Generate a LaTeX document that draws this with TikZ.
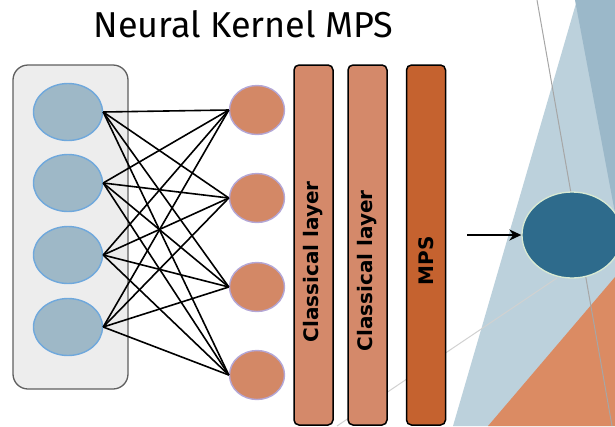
\documentclass[tikz,border=0pt]{standalone}
\usepackage{fontspec}
\setmainfont{Fira Sans}
\newfontfamily\barfont{DejaVu Sans}
\usetikzlibrary{shapes.geometric}
\usetikzlibrary{arrows.meta}

\definecolor{boxgray}{HTML}{EDEDED}
\definecolor{boxrim}{HTML}{5F5F5F}
\definecolor{inblue}{HTML}{9EB8C7}
\definecolor{inrim}{HTML}{6FA8DC}
\definecolor{hidorange}{HTML}{D38866}
\definecolor{hidrim}{HTML}{B4A7D6}
\definecolor{classic}{HTML}{D4896A}
\definecolor{mpsorange}{HTML}{C5622F}
\definecolor{outblue}{HTML}{2E6B8C}
\definecolor{outrim}{HTML}{D9EAD3}
\definecolor{bglight}{HTML}{BCD1DC}
\definecolor{bgdark}{HTML}{9BB8C9}
\definecolor{bgorange}{HTML}{DB8B63}

\tikzset{
  inneuron/.style={ellipse, draw=inrim, fill=inblue, line width=1.4pt, minimum width=69pt, minimum height=57pt, inner sep=0pt},
  hidneuron/.style={ellipse, draw=hidrim, fill=hidorange, line width=1.4pt, minimum width=55pt, minimum height=49pt, inner sep=0pt},
  layerbar/.style={draw=black, rounded corners=5pt, line width=1.5pt, minimum width=39pt, minimum height=360pt, inner sep=0pt},
  bartext/.style={rotate=90, font=\barfont\fontsize{20}{24}\selectfont\bfseries, inner sep=0pt},
  edge/.style={black, line width=1.6pt}
}

\begin{document}
\begin{tikzpicture}[x=1pt,y=-1pt]
    \useasboundingbox (0,0) rectangle (615,426);
    % background triangles
    \fill[bglight] (577,0) -- (615,0) -- (615,426) -- (453,426) -- cycle;
    \fill[bgdark] (575,0) -- (615,0) -- (615,213) -- cycle;
    \fill[bgorange] (615,277) -- (615,426) -- (488,426) -- cycle;
    \draw[black!35, line width=1pt] (537,0) -- (612,426);
    \draw[black!18, line width=1pt] (557,278) -- (337,426);

    \node[anchor=base, font=\fontsize{36}{40}\selectfont] (title) at (243.5,37) {Neural Kernel MPS};

    \node[draw=boxrim, fill=boxgray, rounded corners=15pt, line width=1.3pt, minimum width=115pt, minimum height=324pt] (input) at (70.5,227) {};

\foreach \i/\y in {1/112,2/183,3/255,4/327}
    \node[inneuron] (b\i) at (68,\y) {};
\foreach \j/\y in {1/110,2/198,3/287,4/375}
    \node[hidneuron] (o\j) at (257,\y) {};
\foreach \i in {1,...,4}
    \foreach \j in {1,...,4}
        \draw[edge] (b\i.east) -- (o\j.west);

    \node[layerbar, fill=classic] (cl1) at (313.5,245) {};
    \node[layerbar, fill=classic] (cl2) at (367.5,245) {};
    \node[layerbar, fill=mpsorange] (mps) at (426,245) {};
    \node[bartext] (cl1txt) at (313.5,262) {Classical layer};
    \node[bartext] (cl2txt) at (367.5,271) {Classical layer};
    \node[bartext] (mpstxt) at (426,261) {MPS};

    \node[ellipse, draw=outrim, fill=outblue, line width=1.3pt, minimum width=100pt, minimum height=86pt] (out) at (572,235) {};
    \coordinate (arrstart) at (467,235);
    \draw[-{Stealth[length=12pt,width=11pt]}, line width=1.8pt] (arrstart) -- (out.west);
\end{tikzpicture}
\end{document}
